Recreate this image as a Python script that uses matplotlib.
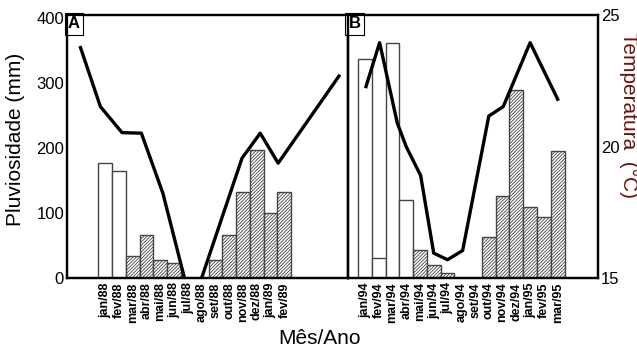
import matplotlib
matplotlib.use('Agg')
import matplotlib.pyplot as plt

plt.rcParams['font.family'] = ['Liberation Sans', 'DejaVu Sans']
plt.rcParams['hatch.linewidth'] = 0.6

# Panel A (1988/89)
months_a = ['jan/88', 'fev/88', 'mar/88', 'abr/88', 'mai/88', 'jun/88', 'jul/88',
            'ago/88', 'set/88', 'out/88', 'nov/88', 'dez/88', 'jan/89', 'fev/89']
rain_a = [177, 165, 34, 67, 28, 23, 0, 0, 28, 67, 132, 198, 100, 132]
dry_a = [False, False, True, True, True, True, True, True, True, True, True, True, True, True]
temp_x_a = [-1.78, -0.34, 1.23, 2.63, 4.19, 6.29, 9.93, 11.25, 12.55, 16.96]
temp_a = [23.76, 21.52, 20.53, 20.51, 18.23, 13.9, 19.56, 20.51, 19.37, 22.68]

# Panel B (1994/95)
months_b = ['jan/94', 'fev/94', 'mar/94', 'abr/94', 'mai/94', 'jun/94', 'jul/94', 'ago/94',
            'set/94', 'out/94', 'nov/94', 'dez/94', 'jan/95', 'fev/95', 'mar/95']
rain_b = [338, 31, 362, 121, 44, 21, 8, 0, 0, 63, 127, 290, 109, 94, 196]
dry_b = [False, False, False, False, True, True, True, True, True, True, True, True, True, True, True]
temp_x_b = [0.08, 1.07, 2.35, 3.0, 4.05, 5.0, 6.0, 7.1, 9.0, 10.05, 12.0, 14.0]
temp_b = [22.28, 23.95, 20.9, 20.0, 18.9, 15.95, 15.7, 16.05, 21.16, 21.52, 23.95, 21.8]

fig = plt.figure(figsize=(6.37, 3.49), dpi=100)
ax_a = fig.add_axes([0.105, 0.203, 0.441, 0.754])
ax_b = fig.add_axes([0.546, 0.203, 0.393, 0.754])


def draw_panel(ax, months, rain, hatched, tx, ty, xlim, letter, show_right):
    x = range(len(months))
    for xi, r, h in zip(x, rain, hatched):
        if r <= 0:
            continue
        ax.bar(xi, r, width=1.0, color='white', edgecolor='#444444', linewidth=1.0,
               hatch='//////////' if h else None)
    ax.set_xlim(*xlim)
    ax.set_ylim(0, 405)
    ax.set_xticks(list(x))
    ax.set_xticklabels(months, rotation=90, fontsize=9, fontweight='bold')
    ax.tick_params(axis='x', length=0, pad=3)
    for s in ax.spines.values():
        s.set_linewidth(1.6)

    tw = ax.twinx()
    tw.plot(tx, ty, color='black', linewidth=2.4)
    tw.set_ylim(15, 25)
    tw.set_xlim(*xlim)
    for s in tw.spines.values():
        s.set_linewidth(1.6)
    if show_right:
        tw.set_yticks([15, 20, 25])
        tw.tick_params(axis='y', length=0, labelsize=12, pad=2)
    else:
        tw.set_yticks([])

    ax.text(0.004, 0.995, letter, transform=ax.transAxes, ha='left', va='top',
            fontsize=12, fontweight='bold', zorder=10,
            bbox=dict(boxstyle='square,pad=0.2', fc='white', ec='black', lw=0.8))
    return tw


draw_panel(ax_a, months_a, rain_a, dry_a, temp_x_a, temp_a, (-2.77, 17.6), 'A', False)
draw_panel(ax_b, months_b, rain_b, dry_b, temp_x_b, temp_b, (-1.24, 16.94), 'B', True)

ax_a.set_yticks([0, 100, 200, 300, 400])
ax_a.tick_params(axis='y', length=0, labelsize=12, pad=2)
ax_b.set_yticks([])

fig.text(0.025, 0.6, 'Pluviosidade (mm)', rotation=90, ha='center', va='center', fontsize=15)
fig.text(0.986, 0.67, 'Temperatura  (°C)', rotation=270, ha='center', va='center',
         fontsize=15, color='#6b1010')
fig.text(0.502, 0.03, 'Mês/Ano', ha='center', va='center', fontsize=15)

fig.savefig('out.png', dpi=100)
